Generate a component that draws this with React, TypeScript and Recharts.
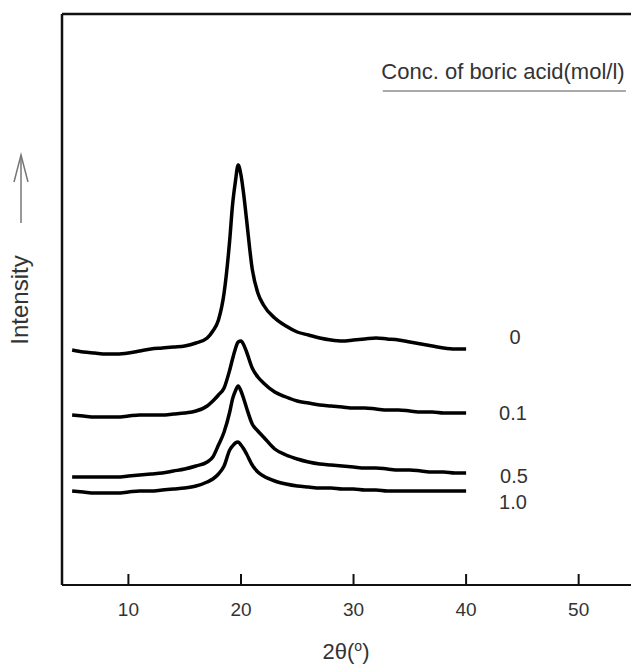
import React from 'react';
import { LineChart, Line, XAxis, YAxis, ReferenceLine } from 'recharts';

// 2-theta grid (deg), denser around the PVA peak
const angles = [5, 6, 7, 8, 9, 10, 11, 12, 13, 14, 15, 16, 17, 17.5, 18, 18.5, 19, 19.25, 19.5, 19.75, 20, 20.25, 20.5, 21, 21.5, 22, 23, 24, 25, 26, 27, 28, 29, 30, 31, 32, 33, 34, 35, 36, 37, 38, 39, 40];

// intensity (a.u., curves already offset as in the figure)
const conc0 = [235, 233, 232, 231, 231, 232, 234, 236, 237, 238, 239, 242, 247, 254, 265, 292, 345, 380, 403, 420, 410, 390, 365, 316, 292, 280, 267, 259, 253, 250, 247, 245, 244, 245, 246, 247, 246, 245, 243, 241, 239, 237, 236, 236];
const conc01 = [170, 169, 168, 168, 168, 169, 170, 170, 170, 171, 172, 174, 179, 184, 190, 197, 215, 226, 236, 243, 244, 240, 233, 217, 208, 202, 193, 188, 184, 182, 180, 179, 178, 177, 177, 176, 175, 175, 174, 173, 173, 172, 172, 172];
const conc05 = [108, 108, 108, 108, 108, 109, 110, 111, 112, 114, 116, 119, 123, 128, 140, 153, 173, 186, 194, 199, 194, 186, 177, 161, 154, 148, 136, 130, 126, 123, 121, 120, 119, 118, 117, 117, 116, 115, 115, 114, 113, 113, 112, 112];
const conc10 = [94, 93, 92, 92, 92, 93, 94, 94, 95, 96, 97, 99, 103, 106, 111, 119, 135, 139, 142, 143, 140, 136, 131, 120, 113, 109, 104, 101, 99, 98, 97, 97, 96, 96, 95, 95, 94, 94, 94, 94, 94, 94, 94, 94];

const xTicks = [10, 20, 30, 40, 50];
const seriesLabels = ['0', '0.1', '0.5', '1.0'];

const data = angles.map((a, i) => ({
  angle: a,
  c0: conc0[i],
  c01: conc01[i],
  c05: conc05[i],
  c10: conc10[i],
}));

const FONT = '"Liberation Sans", Arial, sans-serif';

function InsideTick({ x, y, payload }: any) {
  return (
    <g>
      <line x1={x} x2={x} y1={y} y2={y - 11} stroke="#111" strokeWidth={2} />
      <text x={x} y={y + 31} textAnchor="middle" fontSize={19} fill="#333" fontFamily={FONT}>
        {payload.value}
      </text>
    </g>
  );
}

export default function App() {
  const lineProps = {
    type: 'monotone' as const,
    stroke: '#000',
    strokeWidth: 3.5,
    dot: false,
    isAnimationActive: false,
    strokeLinejoin: 'round' as const,
  };

  return (
    <div style={{ position: 'absolute', left: 0, top: 0, width: 631, height: 666, background: '#fff' }}>
      <LineChart width={631} height={666} data={data} margin={{ top: 14, right: 0, left: 62, bottom: 21 }}>
        <XAxis
          dataKey="angle"
          type="number"
          domain={[4.1, 54.65]}
          ticks={xTicks}
          allowDataOverflow
          height={60}
          tickSize={0}
          tickMargin={0}
          tickLine={false}
          tick={<InsideTick />}
          axisLine={{ stroke: '#111', strokeWidth: 2 }}
        />
        <YAxis hide type="number" domain={[0, 571]} allowDataOverflow />
        <ReferenceLine y={571} stroke="#111" strokeWidth={2.5} />
        <ReferenceLine x={4.1} stroke="#111" strokeWidth={2.5} />
        <ReferenceLine
          segment={[{ x: 32.6, y: 494 }, { x: 54.2, y: 494 }]}
          stroke="#555"
          strokeWidth={1.2}
        />
        <Line dataKey="c0" {...lineProps} />
        <Line dataKey="c01" {...lineProps} />
        <Line dataKey="c05" {...lineProps} />
        <Line dataKey="c10" {...lineProps} />
      </LineChart>
      <svg
        width={631}
        height={666}
        style={{ position: 'absolute', left: 0, top: 0, pointerEvents: 'none' }}
        fontFamily={FONT}
      >
        <text x={503} y={79} textAnchor="middle" fontSize={22} fill="#333">
          Conc. of boric acid(mol/l)
        </text>
        <text x={515} y={344} textAnchor="middle" fontSize={20} fill="#333">{seriesLabels[0]}</text>
        <text x={513} y={420} textAnchor="middle" fontSize={20} fill="#333">{seriesLabels[1]}</text>
        <text x={514} y={483} textAnchor="middle" fontSize={20} fill="#333">{seriesLabels[2]}</text>
        <text x={513} y={509} textAnchor="middle" fontSize={20} fill="#333">{seriesLabels[3]}</text>
        <text
          x={28}
          y={300}
          textAnchor="middle"
          fontSize={24}
          fill="#333"
          transform="rotate(-90 28 300)"
        >
          Intensity
        </text>
        <line x1={21} y1={223} x2={21} y2={155} stroke="#777" strokeWidth={1.5} />
        <polyline points="14,182 21,155 28,182" fill="none" stroke="#777" strokeWidth={1.5} />
        <text x={346} y={659} textAnchor="middle" fontSize={22} fill="#333">
          2θ(<tspan fontSize={14} dy={-8}>o</tspan><tspan dy={8}>)</tspan>
        </text>
      </svg>
    </div>
  );
}
